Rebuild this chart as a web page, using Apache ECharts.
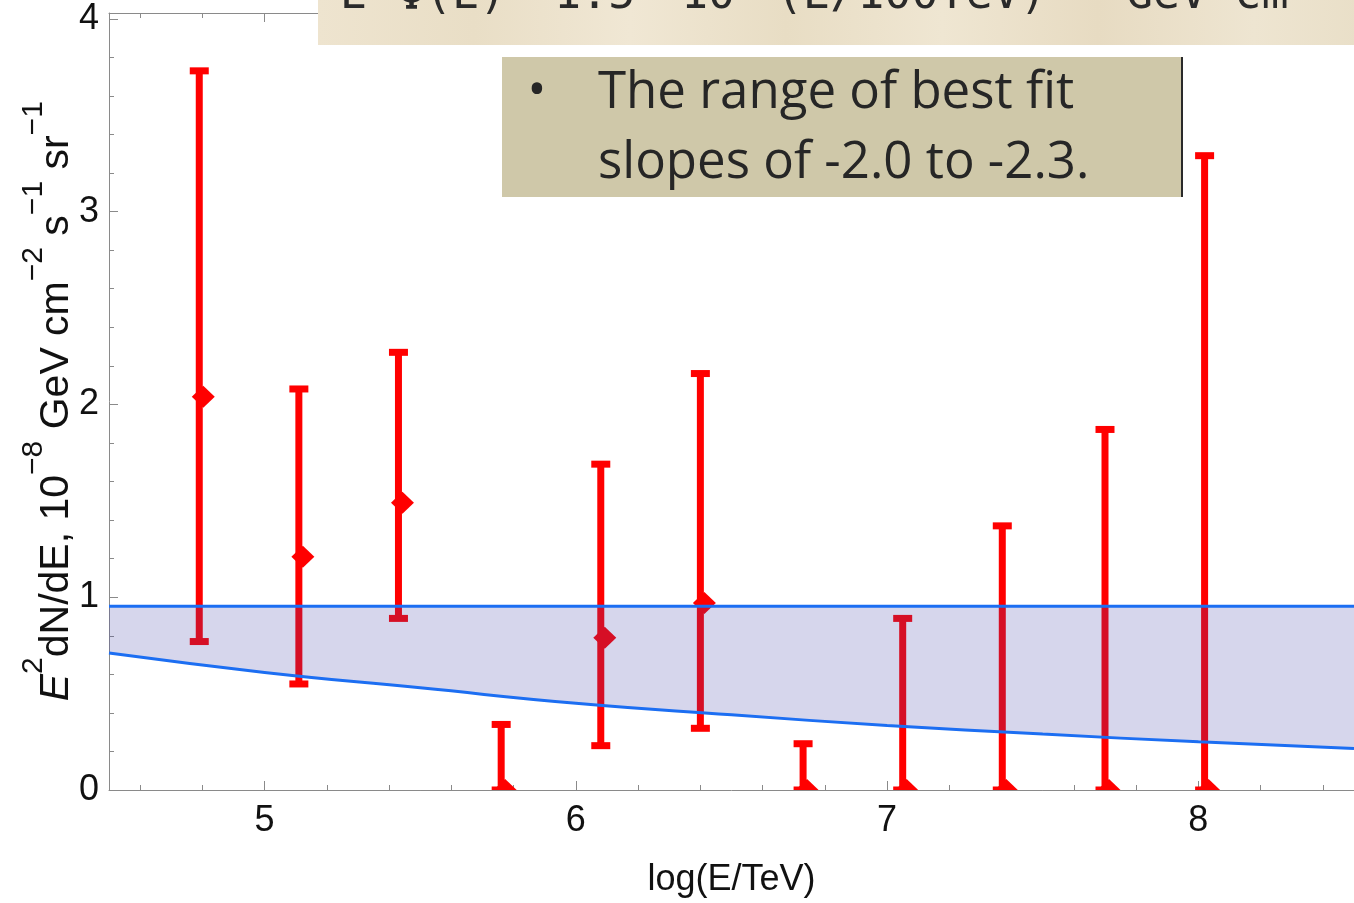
<!DOCTYPE html>
<html><head><meta charset="utf-8">
<script src="https://cdn.jsdelivr.net/npm/echarts@6/dist/echarts.min.js"></script>
<style>html,body{margin:0;padding:0;background:#fff}#c{width:1354px;height:903px}</style>
</head><body><div id="c"></div>
<script>
// ---- data ----
const energyLog   = [4.79, 5.11, 5.43, 5.76, 6.08, 6.40, 6.73, 7.05, 7.37, 7.70, 8.02];
const fluxCentral = [2.04, 1.21, 1.49, 0.00, 0.79, 0.97, 0.00, 0.00, 0.00, 0.00, 0.00];
const fluxLow     = [0.77, 0.55, 0.89, 0.00, 0.23, 0.32, 0.00, 0.00, 0.00, 0.00, 0.00];
const fluxHigh    = [3.73, 2.08, 2.27, 0.34, 1.69, 2.16, 0.24, 0.89, 1.37, 1.87, 3.29];
const bandX       = [4.5, 5.0, 5.5, 6.0, 6.5, 7.0, 7.5, 8.0, 8.5];
const bandLower   = [0.71, 0.61, 0.53, 0.45, 0.39, 0.335, 0.29, 0.25, 0.215];
const bandUpper   = [0.953, 0.953, 0.953, 0.953, 0.953, 0.953, 0.953, 0.953, 0.953];
const xMajorTicks = [5, 6, 7, 8];
const xMinorTicks = [4.6, 4.8, 5.2, 5.4, 5.6, 5.8, 6.2, 6.4, 6.6, 6.8, 7.2, 7.4, 7.6, 7.8, 8.2, 8.4];
const yMajorTicks = [0, 1, 2, 3, 4];
const yMinorTicks = [0.2, 0.4, 0.6, 0.8, 1.2, 1.4, 1.6, 1.8, 2.2, 2.4, 2.6, 2.8, 3.2, 3.4, 3.6, 3.8];
const xRange = [4.5, 8.5];
const yRange = [0, 4.03];

const AX = '#8a8a8a';
const SANS = '"Liberation Sans", Arial, sans-serif';
const BLUE = '#1c6ef2';
const chart = echarts.init(document.getElementById('c'), null, {renderer: 'canvas'});

function xAx(pos, ticks, len, line, labels, extra) {
  return Object.assign({
    type: 'value', min: xRange[0], max: xRange[1], position: pos,
    axisLine: {show: line, onZero: false, lineStyle: {color: AX, width: 1}},
    axisTick: {show: true, inside: true, length: len, customValues: ticks, lineStyle: {color: AX, width: 1}},
    axisLabel: labels ? {customValues: ticks, fontSize: 36, color: '#111', fontFamily: SANS, margin: 13}
                      : {show: false},
    splitLine: {show: false}
  }, extra || {});
}
function yAx(ticks, len, line, labels, extra) {
  return Object.assign({
    type: 'value', min: yRange[0], max: yRange[1], position: 'left',
    axisLine: {show: line, onZero: false, lineStyle: {color: AX, width: 1}},
    axisTick: {show: true, inside: true, length: len, customValues: ticks, lineStyle: {color: AX, width: 1}},
    axisLabel: labels ? {customValues: ticks, fontSize: 36, color: '#111', fontFamily: SANS, margin: 10}
                      : {show: false},
    splitLine: {show: false}
  }, extra || {});
}

const mono = '"DejaVu Sans Mono", monospace';
function topText(txt, x, y) {
  return {type: 'text', x: x, y: (y === undefined ? -4 : y), z: 102,
    style: {text: txt, fontSize: 45, fontFamily: mono, fill: '#2a2a2a',
            align: 'left', textAlign: 'left', verticalAlign: 'middle', textVerticalAlign: 'middle'}};
}
const boxFont = '"Open Sans", sans-serif';

chart.setOption({
  animation: false,
  backgroundColor: '#fff',
  grid: {left: 109, right: -4, top: 13, bottom: 112, containLabel: false},
  xAxis: [
    xAx('bottom', xMajorTicks, 9, true, true, {
      name: 'log(E/TeV)', nameLocation: 'middle', nameGap: 72, nameMoveOverlap: false,
      nameTextStyle: {fontSize: 36, color: '#111', fontFamily: SANS}
    }),
    xAx('bottom', xMinorTicks, 5, false, false),
    xAx('top', xMajorTicks, 9, true, false),
    xAx('top', xMinorTicks, 5, false, false)
  ],
  yAxis: [
    yAx(yMajorTicks, 9, true, true, {
      name: '{s| }{i|E}{p|2}{n|dN/dE, 10}{p|−8}{n| GeV cm}{p|−2}{n| s}{p|−1}{n| sr}{p|−1}',
      nameLocation: 'middle', nameGap: 32, nameRotate: 90, nameMoveOverlap: false,
      nameTextStyle: {
        color: '#111', fontFamily: SANS,
        rich: {
          s: {fontSize: 2, lineHeight: 58, fontFamily: SANS},
          i: {fontSize: 41, fontStyle: 'italic', lineHeight: 43, verticalAlign: 'bottom', color: '#111', fontFamily: SANS},
          n: {fontSize: 41, lineHeight: 43, verticalAlign: 'bottom', color: '#111', fontFamily: SANS},
          p: {fontSize: 30, lineHeight: 32, verticalAlign: 'top', color: '#111', fontFamily: SANS}
        }
      }
    }),
    yAx(yMinorTicks, 5, false, false)
  ],
  series: [
    {
      type: 'custom', name: 'data', xAxisIndex: 0, yAxisIndex: 0, z: 2, clip: true,
      data: energyLog.map((x, i) => [x, fluxCentral[i], fluxLow[i], fluxHigh[i]]),
      encode: {x: 0, y: [1, 2, 3]},
      renderItem: function (params, api) {
        const x = api.value(0);
        const pC = api.coord([x, api.value(1)]);
        const pL = api.coord([x, api.value(2)]);
        const pH = api.coord([x, api.value(3)]);
        const st = {fill: '#ff0000'};
        const dx = pC[0] + 4;
        return {type: 'group', children: [
          {type: 'rect', shape: {x: pH[0] - 3.5, y: pH[1], width: 7, height: pL[1] - pH[1]}, style: st},
          {type: 'rect', shape: {x: pH[0] - 9.5, y: pH[1] - 3.5, width: 19, height: 7}, style: st},
          {type: 'rect', shape: {x: pL[0] - 9.5, y: pL[1] - 3.5, width: 19, height: 7}, style: st},
          {type: 'polygon', shape: {points: [[dx - 11.5, pC[1]], [dx, pC[1] - 11], [dx + 11.5, pC[1]], [dx, pC[1] + 11]]}, style: st}
        ]};
      }
    },
    {
      type: 'custom', name: 'band', xAxisIndex: 0, yAxisIndex: 0, z: 3, clip: true,
      data: bandX.map((x, i) => [x, bandLower[i], bandUpper[i]]),
      encode: {x: 0, y: [1, 2]},
      renderItem: function (params, api) {
        if (params.dataIndex !== 0) return null;
        const pts = [];
        for (let i = 0; i < bandX.length; i++) pts.push(api.coord([bandX[i], bandUpper[i]]));
        for (let i = bandX.length - 1; i >= 0; i--) pts.push(api.coord([bandX[i], bandLower[i]]));
        return {type: 'polygon', shape: {points: pts}, style: {fill: 'rgba(70,70,170,0.22)'}};
      }
    },
    {
      type: 'line', name: 'lower', smooth: true, symbol: 'none', z: 4,
      data: bandX.map((x, i) => [x, bandLower[i]]),
      lineStyle: {color: BLUE, width: 3}
    },
    {
      type: 'line', name: 'upper', symbol: 'none', z: 4,
      data: bandX.map((x, i) => [x, bandUpper[i]]),
      lineStyle: {color: BLUE, width: 3}
    }
  ],
  graphic: [
    {type: 'rect', z: 100, shape: {x: 318, y: 0, width: 1040, height: 45},
     style: {fill: new echarts.graphic.LinearGradient(0, 0, 1, 0, [
       {offset: 0, color: '#eee4cf'}, {offset: 0.15, color: '#e9dec6'}, {offset: 0.3, color: '#f0e7d4'},
       {offset: 0.45, color: '#e8ddc4'}, {offset: 0.6, color: '#efe6d2'}, {offset: 0.75, color: '#e7dbc2'},
       {offset: 0.9, color: '#eee5d1'}, {offset: 1, color: '#e9dfc8'}])}},
    topText('E', 340),
    topText('Φ(E)', 398),
    topText('=', 517, -12),
    topText('1.5', 554),
    topText('×', 645, -12),
    topText('10', 681),
    topText('(E/100TeV)', 776),
    topText('GeV cm', 1126),
    {type: 'rect', z: 100, shape: {x: 502, y: 57, width: 680, height: 140}, style: {fill: '#cfc8a9'}},
    {type: 'rect', z: 101, shape: {x: 1181, y: 57, width: 2, height: 140}, style: {fill: '#2a2a2a'}},
    {type: 'text', z: 102, x: 537, y: 92,
     style: {text: '•', fontSize: 50, fontFamily: boxFont, fill: '#262626',
             align: 'center', textAlign: 'center', verticalAlign: 'middle', textVerticalAlign: 'middle'}},
    {type: 'text', z: 102, x: 598, y: 93,
     style: {text: 'The range of best fit', fontSize: 51, fontFamily: boxFont, fill: '#262626',
             align: 'left', textAlign: 'left', verticalAlign: 'middle', textVerticalAlign: 'middle'}},
    {type: 'text', z: 102, x: 598, y: 163,
     style: {text: 'slopes of -2.0 to -2.3.', fontSize: 51, fontFamily: boxFont, fill: '#262626',
             align: 'left', textAlign: 'left', verticalAlign: 'middle', textVerticalAlign: 'middle'}}
  ]
});
</script>
</body></html>
